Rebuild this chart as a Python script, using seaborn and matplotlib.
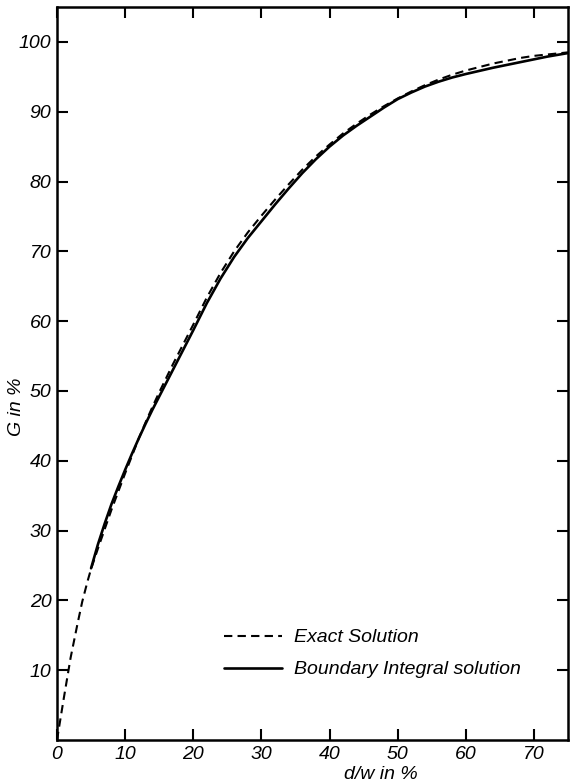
import matplotlib
matplotlib.use("Agg")
import matplotlib.pyplot as plt
import seaborn as sns
import pandas as pd

# Data
exact_x = [0, 1, 2, 3, 3.7, 4.5, 5, 6, 7, 8, 9, 10, 11, 12, 13, 14, 15, 16, 17, 18, 19, 20,
           22, 24, 26, 28, 30, 32, 34, 36, 38, 40, 42, 44, 46, 48, 50, 52, 54, 56, 58, 60,
           62, 64, 66, 68, 70, 72, 75]
exact_y = [0, 6.0, 11.8, 16.6, 19.8, 22.8, 24.5, 27.4, 30.2, 33, 35.6, 38.2, 40.7, 43.2, 45.5,
           47.7, 49.8, 51.8, 53.8, 55.7, 57.6, 59.5, 63.4, 66.9, 70, 72.7, 75.1, 77.4, 79.6, 81.7,
           83.6, 85.3, 86.9, 88.3, 89.6, 90.8, 91.9, 92.9, 93.8, 94.6, 95.3, 95.9, 96.4, 96.9,
           97.3, 97.7, 98.0, 98.2, 98.5]

bie_x = [5.0, 6, 7, 8, 9, 10, 11, 12, 13, 14, 15, 16, 17, 18, 19, 20, 22, 24, 26, 28, 30, 32, 34,
         36, 38, 40, 42, 44, 46, 48, 50, 52, 54, 56, 58, 60, 62, 64, 66, 68, 70, 72, 75]
bie_y = [24.6, 28.0, 31.0, 33.8, 36.3, 38.7, 41.0, 43.2, 45.3, 47.3, 49.2, 51.1, 53, 54.9, 56.8,
         58.7, 62.6, 66.1, 69.2, 71.9, 74.3, 76.7, 79, 81.2, 83.2, 85, 86.6, 88, 89.3, 90.6,
         91.8, 92.75, 93.6, 94.3, 94.9, 95.4, 95.85, 96.3, 96.7, 97.1, 97.5, 97.9, 98.4]

x_ticks = [0, 10, 20, 30, 40, 50, 60, 70]
y_ticks = [10, 20, 30, 40, 50, 60, 70, 80, 90, 100]

sns.set_style("ticks")
plt.rcParams['font.family'] = ['Liberation Sans', 'DejaVu Sans']
plt.rcParams['font.style'] = 'italic'
for k in ['text.color', 'axes.labelcolor', 'xtick.color', 'ytick.color', 'axes.edgecolor']:
    plt.rcParams[k] = 'black'

fig = plt.figure(figsize=(5.7, 7.83), dpi=100)
ax = fig.add_axes([57/570, 1 - 740/783, (568-57)/570, (740-7)/783])

df_exact = pd.DataFrame({"x": exact_x, "y": exact_y})
df_bie = pd.DataFrame({"x": bie_x, "y": bie_y})

sns.lineplot(data=df_exact, x="x", y="y", ax=ax, color="black", lw=1.5,
             linestyle=(0, (4, 2.5)), label="Exact Solution", sort=False)
sns.lineplot(data=df_bie, x="x", y="y", ax=ax, color="black", lw=1.9,
             label="Boundary Integral solution", sort=False)

ax.set_xlim(0, 75)
ax.set_ylim(0, 105)
ax.set_xticks(x_ticks)
ax.set_yticks(y_ticks)
ax.set_xticklabels([str(t) for t in x_ticks], fontsize=14, style='italic')
ax.set_yticklabels([str(t) for t in y_ticks], fontsize=14, style='italic')
ax.tick_params(direction='in', length=8, width=1.5, top=True, right=True,
               labeltop=False, labelright=False, pad=4, colors='black')
for s in ax.spines.values():
    s.set_linewidth(1.8)
    s.set_color('black')

ax.set_xlabel("d/w in %", fontsize=14, style='italic')
ax.xaxis.set_label_coords((381-57)/511, -0.035)
ax.set_ylabel("G in %", fontsize=14, style='italic')
ax.yaxis.set_label_coords(-0.062, 1 - (407-7)/733)

leg = ax.legend(loc='lower left', bbox_to_anchor=((206-57)/511, (740-696)/733),
                frameon=False, fontsize=14, handlelength=3.0, handletextpad=0.6,
                labelspacing=0.75)
for t in leg.get_texts():
    t.set_style('italic')
    t.set_color('black')

fig.savefig("out.png", dpi=100)
